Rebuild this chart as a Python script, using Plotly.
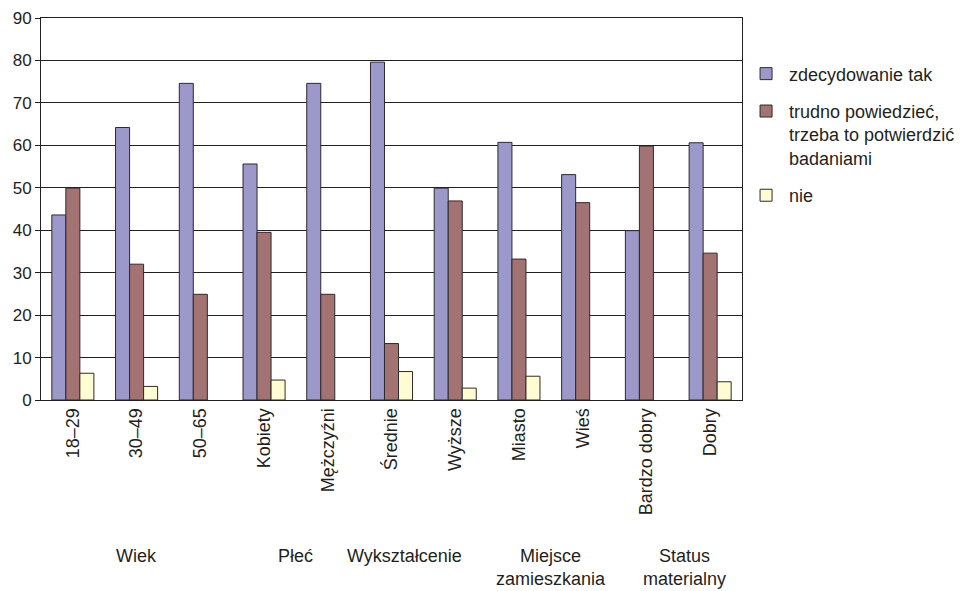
import plotly.graph_objects as go

categories = ["18–29", "30–49", "50–65", "Kobiety", "Mężczyźni", "Średnie",
              "Wyższe", "Miasto", "Wieś", "Bardzo dobry", "Dobry"]

tak = [43.6, 64.2, 74.6, 55.6, 74.6, 79.6, 49.9, 60.7, 53.1, 39.9, 60.6]
trudno = [49.9, 32.0, 24.9, 39.5, 24.9, 13.3, 46.9, 33.2, 46.5, 59.8, 34.6]
nie = [6.3, 3.2, None, 4.7, None, 6.7, 2.8, 5.6, None, None, 4.3]

series_names = ["zdecydowanie tak",
                "trudno powiedzieć,<br>trzeba to potwierdzić<br>badaniami",
                "nie"]
series_colors = ["#9c98ca", "#a37272", "#fffbd2"]

group_labels = ["Wiek", "Płeć", "Wykształcenie", "Miejsce<br>zamieszkania",
                "Status<br>materialny"]
group_pos = [1.0, 3.5, 5.2, 7.5, 9.6]

FONT = "Liberation Sans, Arial, sans-serif"
INK = "#231f20"

fig = go.Figure()
for i, (name, vals, col) in enumerate(zip(series_names, [tak, trudno, nie], series_colors)):
    fig.add_trace(go.Bar(
        x=categories, y=vals, name=name, legendgroup=f"g{i}",
        marker=dict(color=col, line=dict(color="#2b2b2b", width=1)),
    ))

for lab, pos in zip(group_labels, group_pos):
    fig.add_annotation(
        x=pos, xref="x", y=-0.376, yref="paper", text=lab, showarrow=False,
        yanchor="top", xanchor="center",
        font=dict(family=FONT, size=18, color=INK),
    )

fig.update_layout(
    width=960, height=591,
    margin=dict(l=41, r=218, t=18, b=191, autoexpand=False),
    paper_bgcolor="white", plot_bgcolor="white",
    barmode="group", bargap=0.34, bargroupgap=0,
    font=dict(family=FONT, size=18, color=INK),
    showlegend=True,
    legend=dict(
        x=1.0015, y=0.902, xanchor="left", yanchor="top",
        font=dict(family=FONT, size=18, color=INK),
        tracegroupgap=11, valign="top", itemwidth=36,
        bgcolor="rgba(0,0,0,0)",
    ),
)

fig.update_xaxes(
    type="category", tickangle=-90, showline=True, linecolor=INK,
    linewidth=1, mirror=True, showgrid=False, ticks="", ticklen=0,
    tickfont=dict(family=FONT, size=18, color=INK),
)
fig.update_yaxes(
    range=[0, 90], dtick=10, showline=True, linecolor=INK, linewidth=1,
    mirror=True, showgrid=True, gridcolor=INK, gridwidth=1,
    ticks="outside", ticklen=5, tickcolor=INK, zeroline=False,
    tickfont=dict(family=FONT, size=17, color=INK),
)

fig.write_html("out.html")
